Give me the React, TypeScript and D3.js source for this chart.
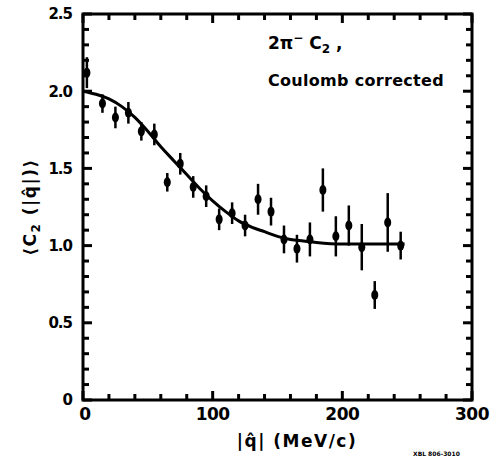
import React from "react";
import * as d3 from "d3";

// Data points: q (MeV/c), C2 value, error
const qValues = [3, 15, 25, 35, 45, 55, 65, 75, 85, 95, 105, 115, 125, 135, 145, 155, 165, 175, 185, 195, 205, 215, 225, 235, 245];
const c2Values = [2.12, 1.92, 1.83, 1.86, 1.74, 1.72, 1.41, 1.53, 1.38, 1.32, 1.17, 1.21, 1.13, 1.30, 1.22, 1.04, 0.98, 1.04, 1.36, 1.06, 1.13, 0.99, 0.68, 1.15, 1.00];
const c2Errors = [0.1, 0.06, 0.07, 0.07, 0.06, 0.07, 0.06, 0.07, 0.07, 0.07, 0.07, 0.07, 0.07, 0.1, 0.09, 0.09, 0.09, 0.11, 0.14, 0.13, 0.13, 0.15, 0.09, 0.19, 0.09];

// Fit curve
const fitQ = [0, 10, 20, 30, 40, 50, 60, 70, 80, 90, 100, 110, 120, 130, 140, 150, 160, 170, 180, 200, 220, 248];
const fitC = [2.0, 1.98, 1.95, 1.9, 1.83, 1.74, 1.64, 1.55, 1.46, 1.37, 1.29, 1.22, 1.16, 1.12, 1.09, 1.06, 1.04, 1.03, 1.02, 1.01, 1.01, 1.01];

const xMajorTicks = [0, 100, 200, 300];
const yMajorTicks = [0, 0.5, 1.0, 1.5, 2.0, 2.5];
const yTickLabels = ["0", "0.5", "1.0", "1.5", "2.0", "2.5"];

const FONT = "'DejaVu Sans', sans-serif";

export default function App() {
  const left = 83, right = 472, top = 14, bottom = 400;
  const x = d3.scaleLinear().domain([0, 300]).range([left, right]);
  const y = d3.scaleLinear().domain([0, 2.5]).range([bottom, top]);

  const xMinor = d3.range(0, 301, 20);
  const yMinor = d3.range(0, 26, 1).map((v) => v / 10);

  const line = d3
    .line<number>()
    .x((_, i) => x(fitQ[i]))
    .y((d) => y(d))
    .curve(d3.curveMonotoneX);

  return (
    <svg
      width={493}
      height={460}
      style={{ position: "absolute", left: 0, top: 0, background: "#fff" }}
    >
      {/* frame */}
      <rect x={left} y={top} width={right - left} height={bottom - top} fill="none" stroke="#000" strokeWidth={3} />

      {/* x ticks bottom and top */}
      {xMinor.map((v) => {
        const major = v % 100 === 0;
        const len = major ? 9 : 6;
        return (
          <g key={"xt" + v}>
            <line x1={x(v)} x2={x(v)} y1={bottom} y2={bottom - len} stroke="#000" strokeWidth={3} />
            <line x1={x(v)} x2={x(v)} y1={top} y2={top + len} stroke="#000" strokeWidth={3} />
          </g>
        );
      })}
      {/* y ticks left and right */}
      {yMinor.map((v) => {
        const major = Math.round(v * 10) % 5 === 0;
        const len = major ? 9 : 6;
        return (
          <g key={"yt" + v}>
            <line x1={left} x2={left + len} y1={y(v)} y2={y(v)} stroke="#000" strokeWidth={3} />
            <line x1={right} x2={right - len} y1={y(v)} y2={y(v)} stroke="#000" strokeWidth={3} />
          </g>
        );
      })}

      {/* y tick labels */}
      {yMajorTicks.map((v, i) => (
        <text
          key={"yl" + v}
          x={left - 11}
          y={y(v)}
          dy="0.36em"
          textAnchor="end"
          fontFamily={FONT}
          fontWeight="bold"
          fontSize={15}
          letterSpacing={-1}
        >
          {yTickLabels[i]}
        </text>
      ))}
      {/* x tick labels */}
      {xMajorTicks.map((v) => (
        <text
          key={"xl" + v}
          x={x(v) + (v === 0 ? 2 : 0)}
          y={bottom + 20}
          textAnchor="middle"
          fontFamily={FONT}
          fontWeight="bold"
          fontSize={17}
          letterSpacing={-0.5}
        >
          {v}
        </text>
      ))}

      {/* axis titles */}
      <text
        x={297}
        y={447}
        textAnchor="middle"
        fontFamily={FONT}
        fontWeight="bold"
        fontSize={17}
        letterSpacing={1.5}
      >
        |q̂| (MeV/c)
      </text>
      <text
        transform="translate(36,207) rotate(-90)"
        textAnchor="middle"
        fontFamily={FONT}
        fontWeight="bold"
        fontSize={17}
        letterSpacing={1.5}
      >
        ⟨C
        <tspan dy={4} fontSize={12}>2</tspan>
        <tspan dy={-4}> (|q̂|)⟩</tspan>
      </text>

      {/* annotation */}
      <text x={268} y={49} fontFamily={FONT} fontWeight="bold" fontSize={17}>
        2π
        <tspan dy={-7} fontSize={12}>−</tspan>
        <tspan dy={7}> C</tspan>
        <tspan dy={4} fontSize={12}>2</tspan>
        <tspan dy={-4}> ,</tspan>
      </text>
      <text x={268} y={86} fontFamily={FONT} fontWeight="bold" fontSize={16} letterSpacing={0.3}>
        Coulomb corrected
      </text>
      <text x={413} y={456} fontFamily={FONT} fontWeight="bold" fontSize={6}>
        XBL 806-3010
      </text>

      {/* fit curve */}
      <path d={line(fitC) || ""} fill="none" stroke="#000" strokeWidth={3} />

      {/* data points */}
      {qValues.map((q, i) => (
        <g key={"p" + i}>
          <line
            x1={x(q)}
            x2={x(q)}
            y1={y(c2Values[i] + c2Errors[i])}
            y2={y(c2Values[i] - c2Errors[i])}
            stroke="#000"
            strokeWidth={2.5}
          />
          <ellipse cx={x(q)} cy={y(c2Values[i])} rx={3.5} ry={5} fill="#000" />
        </g>
      ))}
    </svg>
  );
}
